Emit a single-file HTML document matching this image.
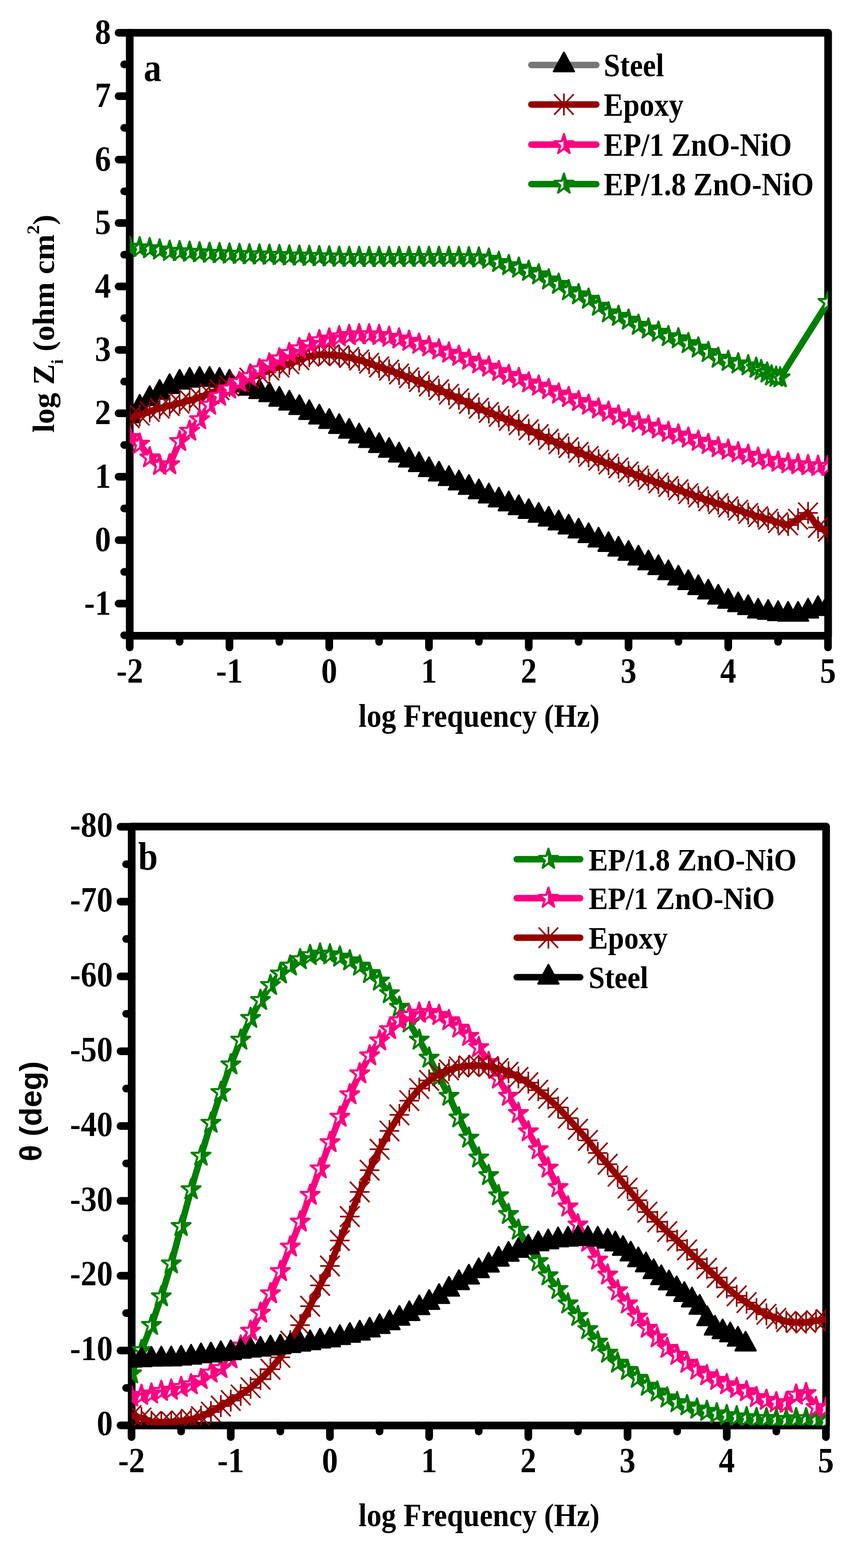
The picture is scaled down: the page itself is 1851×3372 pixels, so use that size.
<!DOCTYPE html><html><head><meta charset="utf-8"><title>EIS Bode plots</title><style>html,body{margin:0;padding:0;background:#fff}svg{display:block}</style></head><body>
<svg width="1851" height="3372" viewBox="0 0 1851 3372">
<rect width="1851" height="3372" fill="#fff"/>
<defs>
<g id="fG"><path d="M0.00,-22.79 L4.78,-7.04 L20.26,-7.04 L7.74,2.69 L12.52,18.44 L0.00,8.71 L-12.52,18.44 L-7.74,2.69 L-20.26,-7.04 L-4.78,-7.04Z" fill="#008000"/><path d="M-1,-8.7 L-4.3,-5.5 L-13.2,-5.5 L-6,2.4 L-9,12.6 L-1,7.3Z" fill="#fff"/></g>
<g id="fP"><path d="M0.00,-22.79 L4.78,-7.04 L20.26,-7.04 L7.74,2.69 L12.52,18.44 L0.00,8.71 L-12.52,18.44 L-7.74,2.69 L-20.26,-7.04 L-4.78,-7.04Z" fill="#ff0080"/><path d="M-1,-8.7 L-4.3,-5.5 L-13.2,-5.5 L-6,2.4 L-9,12.6 L-1,7.3Z" fill="#fff"/></g>
<path id="oG" d="M0.00,-22.79 L4.78,-7.04 L20.26,-7.04 L7.74,2.69 L12.52,18.44 L0.00,8.71 L-12.52,18.44 L-7.74,2.69 L-20.26,-7.04 L-4.78,-7.04Z" fill="none" stroke="#008000" stroke-width="4.5" stroke-linejoin="round"/>
<path id="oP" d="M0.00,-22.79 L4.78,-7.04 L20.26,-7.04 L7.74,2.69 L12.52,18.44 L0.00,8.71 L-12.52,18.44 L-7.74,2.69 L-20.26,-7.04 L-4.78,-7.04Z" fill="none" stroke="#ff0080" stroke-width="4.5" stroke-linejoin="round"/>
<g id="sG"><use href="#fG"/><use href="#oG"/></g>
<g id="sP"><use href="#fP"/><use href="#oP"/></g>
<path id="tK" d="M0,-26.7 L22,13.9 L-22,13.9Z" fill="#000" stroke="#000" stroke-width="4" stroke-linejoin="round"/>
<path id="aW" d="M0,-23.5V23.5M-21,0H21M-21,-22L21,22M-21,22L21,-22" fill="none" stroke="#940000" stroke-width="3.5"/>
<clipPath id="cA"><rect x="278.9" y="70.4" width="1501.4" height="1296.9"/></clipPath>
<clipPath id="cB"><rect x="283.1" y="1777.5" width="1492.9" height="1288.0"/></clipPath>
</defs>
<path d="M278.9,1367.3 V70.4 H1780.3 V1367.3 Z" fill="none" stroke="#000" stroke-width="16.5" stroke-linejoin="round"/>
<g stroke="#000" stroke-width="16.5" stroke-linecap="round"><line x1="278.9" y1="1366.2" x2="266.9" y2="1366.2"/><line x1="278.9" y1="1298.0" x2="254.9" y2="1298.0"/><line x1="278.9" y1="1229.8" x2="266.9" y2="1229.8"/><line x1="278.9" y1="1161.6" x2="254.9" y2="1161.6"/><line x1="278.9" y1="1093.4" x2="266.9" y2="1093.4"/><line x1="278.9" y1="1025.2" x2="254.9" y2="1025.2"/><line x1="278.9" y1="957.0" x2="266.9" y2="957.0"/><line x1="278.9" y1="888.8" x2="254.9" y2="888.8"/><line x1="278.9" y1="820.6" x2="266.9" y2="820.6"/><line x1="278.9" y1="752.4" x2="254.9" y2="752.4"/><line x1="278.9" y1="684.2" x2="266.9" y2="684.2"/><line x1="278.9" y1="616.0" x2="254.9" y2="616.0"/><line x1="278.9" y1="547.8" x2="266.9" y2="547.8"/><line x1="278.9" y1="479.6" x2="254.9" y2="479.6"/><line x1="278.9" y1="411.4" x2="266.9" y2="411.4"/><line x1="278.9" y1="343.2" x2="254.9" y2="343.2"/><line x1="278.9" y1="275.0" x2="266.9" y2="275.0"/><line x1="278.9" y1="206.8" x2="254.9" y2="206.8"/><line x1="278.9" y1="138.6" x2="266.9" y2="138.6"/><line x1="278.9" y1="70.4" x2="254.9" y2="70.4"/><line x1="278.9" y1="1367.3" x2="278.9" y2="1392.3"/><line x1="386.1" y1="1367.3" x2="386.1" y2="1380.3"/><line x1="493.3" y1="1367.3" x2="493.3" y2="1392.3"/><line x1="600.6" y1="1367.3" x2="600.6" y2="1380.3"/><line x1="707.8" y1="1367.3" x2="707.8" y2="1392.3"/><line x1="815.0" y1="1367.3" x2="815.0" y2="1380.3"/><line x1="922.2" y1="1367.3" x2="922.2" y2="1392.3"/><line x1="1029.5" y1="1367.3" x2="1029.5" y2="1380.3"/><line x1="1136.7" y1="1367.3" x2="1136.7" y2="1392.3"/><line x1="1243.9" y1="1367.3" x2="1243.9" y2="1380.3"/><line x1="1351.2" y1="1367.3" x2="1351.2" y2="1392.3"/><line x1="1458.4" y1="1367.3" x2="1458.4" y2="1380.3"/><line x1="1565.6" y1="1367.3" x2="1565.6" y2="1392.3"/><line x1="1672.8" y1="1367.3" x2="1672.8" y2="1380.3"/><line x1="1780.0" y1="1367.3" x2="1780.0" y2="1392.3"/></g>
<text transform="translate(238.5,1321.5) scale(1,1.1)" font-size="69" text-anchor="end" font-family="'Liberation Serif','Times New Roman',serif" font-weight="bold">-1</text>
<text transform="translate(238.5,1185.1) scale(1,1.1)" font-size="69" text-anchor="end" font-family="'Liberation Serif','Times New Roman',serif" font-weight="bold">0</text>
<text transform="translate(238.5,1048.7) scale(1,1.1)" font-size="69" text-anchor="end" font-family="'Liberation Serif','Times New Roman',serif" font-weight="bold">1</text>
<text transform="translate(238.5,912.3) scale(1,1.1)" font-size="69" text-anchor="end" font-family="'Liberation Serif','Times New Roman',serif" font-weight="bold">2</text>
<text transform="translate(238.5,775.9) scale(1,1.1)" font-size="69" text-anchor="end" font-family="'Liberation Serif','Times New Roman',serif" font-weight="bold">3</text>
<text transform="translate(238.5,639.5) scale(1,1.1)" font-size="69" text-anchor="end" font-family="'Liberation Serif','Times New Roman',serif" font-weight="bold">4</text>
<text transform="translate(238.5,503.1) scale(1,1.1)" font-size="69" text-anchor="end" font-family="'Liberation Serif','Times New Roman',serif" font-weight="bold">5</text>
<text transform="translate(238.5,366.7) scale(1,1.1)" font-size="69" text-anchor="end" font-family="'Liberation Serif','Times New Roman',serif" font-weight="bold">6</text>
<text transform="translate(238.5,230.3) scale(1,1.1)" font-size="69" text-anchor="end" font-family="'Liberation Serif','Times New Roman',serif" font-weight="bold">7</text>
<text transform="translate(238.5,93.9) scale(1,1.1)" font-size="69" text-anchor="end" font-family="'Liberation Serif','Times New Roman',serif" font-weight="bold">8</text>
<text transform="translate(278.9,1467.5) scale(1,1.1)" font-size="69" text-anchor="middle" font-family="'Liberation Serif','Times New Roman',serif" font-weight="bold">-2</text>
<text transform="translate(493.3,1467.5) scale(1,1.1)" font-size="69" text-anchor="middle" font-family="'Liberation Serif','Times New Roman',serif" font-weight="bold">-1</text>
<text transform="translate(707.8,1467.5) scale(1,1.1)" font-size="69" text-anchor="middle" font-family="'Liberation Serif','Times New Roman',serif" font-weight="bold">0</text>
<text transform="translate(922.2,1467.5) scale(1,1.1)" font-size="69" text-anchor="middle" font-family="'Liberation Serif','Times New Roman',serif" font-weight="bold">1</text>
<text transform="translate(1136.7,1467.5) scale(1,1.1)" font-size="69" text-anchor="middle" font-family="'Liberation Serif','Times New Roman',serif" font-weight="bold">2</text>
<text transform="translate(1351.2,1467.5) scale(1,1.1)" font-size="69" text-anchor="middle" font-family="'Liberation Serif','Times New Roman',serif" font-weight="bold">3</text>
<text transform="translate(1565.6,1467.5) scale(1,1.1)" font-size="69" text-anchor="middle" font-family="'Liberation Serif','Times New Roman',serif" font-weight="bold">4</text>
<text transform="translate(1780.0,1467.5) scale(1,1.1)" font-size="69" text-anchor="middle" font-family="'Liberation Serif','Times New Roman',serif" font-weight="bold">5</text>
<g clip-path="url(#cA)">
<polyline points="278.9,894.3 300.3,875.8 321.8,857.4 343.2,843.8 364.7,831.5 386.1,822.0 407.6,817.9 429.0,815.8 450.5,815.8 471.9,817.9 493.3,822.0 514.8,827.9 536.2,835.2 557.7,842.4 579.1,849.2 600.6,858.8 622.0,867.0 643.5,876.5 664.9,887.4 686.4,897.0 707.8,906.5 729.2,917.4 750.7,927.7 772.1,937.9 793.6,947.5 815.0,958.4 836.5,968.6 857.9,978.8 879.4,989.7 900.8,999.3 922.2,1010.2 943.7,1019.7 965.1,1029.3 986.6,1038.8 1008.0,1048.4 1029.5,1057.9 1050.9,1066.8 1072.4,1075.4 1093.8,1083.8 1115.3,1092.0 1136.7,1100.2 1158.1,1108.3 1179.6,1116.6 1201.0,1124.8 1222.5,1133.6 1243.9,1142.2 1265.4,1152.1 1286.8,1161.6 1308.3,1171.1 1329.7,1181.1 1351.2,1190.2 1372.6,1200.3 1394.0,1210.7 1415.5,1220.9 1436.9,1231.8 1458.4,1243.4 1479.8,1253.0 1501.3,1263.9 1522.7,1273.4 1544.2,1284.4 1565.6,1293.4 1587.0,1300.7 1608.5,1306.9 1629.9,1314.4 1651.4,1317.1 1672.8,1319.8 1694.3,1321.2 1715.7,1321.2 1737.2,1314.4 1758.6,1308.9 1780.0,1303.5" fill="none" stroke="#777777" stroke-width="14" stroke-linejoin="round" stroke-linecap="round"/>
<g><use href="#tK" x="278.9" y="894.3"/><use href="#tK" x="300.3" y="875.8"/><use href="#tK" x="321.8" y="857.4"/><use href="#tK" x="343.2" y="843.8"/><use href="#tK" x="364.7" y="831.5"/><use href="#tK" x="386.1" y="822.0"/><use href="#tK" x="407.6" y="817.9"/><use href="#tK" x="429.0" y="815.8"/><use href="#tK" x="450.5" y="815.8"/><use href="#tK" x="471.9" y="817.9"/><use href="#tK" x="493.3" y="822.0"/><use href="#tK" x="514.8" y="827.9"/><use href="#tK" x="536.2" y="835.2"/><use href="#tK" x="557.7" y="842.4"/><use href="#tK" x="579.1" y="849.2"/><use href="#tK" x="600.6" y="858.8"/><use href="#tK" x="622.0" y="867.0"/><use href="#tK" x="643.5" y="876.5"/><use href="#tK" x="664.9" y="887.4"/><use href="#tK" x="686.4" y="897.0"/><use href="#tK" x="707.8" y="906.5"/><use href="#tK" x="729.2" y="917.4"/><use href="#tK" x="750.7" y="927.7"/><use href="#tK" x="772.1" y="937.9"/><use href="#tK" x="793.6" y="947.5"/><use href="#tK" x="815.0" y="958.4"/><use href="#tK" x="836.5" y="968.6"/><use href="#tK" x="857.9" y="978.8"/><use href="#tK" x="879.4" y="989.7"/><use href="#tK" x="900.8" y="999.3"/><use href="#tK" x="922.2" y="1010.2"/><use href="#tK" x="943.7" y="1019.7"/><use href="#tK" x="965.1" y="1029.3"/><use href="#tK" x="986.6" y="1038.8"/><use href="#tK" x="1008.0" y="1048.4"/><use href="#tK" x="1029.5" y="1057.9"/><use href="#tK" x="1050.9" y="1066.8"/><use href="#tK" x="1072.4" y="1075.4"/><use href="#tK" x="1093.8" y="1083.8"/><use href="#tK" x="1115.3" y="1092.0"/><use href="#tK" x="1136.7" y="1100.2"/><use href="#tK" x="1158.1" y="1108.3"/><use href="#tK" x="1179.6" y="1116.6"/><use href="#tK" x="1201.0" y="1124.8"/><use href="#tK" x="1222.5" y="1133.6"/><use href="#tK" x="1243.9" y="1142.2"/><use href="#tK" x="1265.4" y="1152.1"/><use href="#tK" x="1286.8" y="1161.6"/><use href="#tK" x="1308.3" y="1171.1"/><use href="#tK" x="1329.7" y="1181.1"/><use href="#tK" x="1351.2" y="1190.2"/><use href="#tK" x="1372.6" y="1200.3"/><use href="#tK" x="1394.0" y="1210.7"/><use href="#tK" x="1415.5" y="1220.9"/><use href="#tK" x="1436.9" y="1231.8"/><use href="#tK" x="1458.4" y="1243.4"/><use href="#tK" x="1479.8" y="1253.0"/><use href="#tK" x="1501.3" y="1263.9"/><use href="#tK" x="1522.7" y="1273.4"/><use href="#tK" x="1544.2" y="1284.4"/><use href="#tK" x="1565.6" y="1293.4"/><use href="#tK" x="1587.0" y="1300.7"/><use href="#tK" x="1608.5" y="1306.9"/><use href="#tK" x="1629.9" y="1314.4"/><use href="#tK" x="1651.4" y="1317.1"/><use href="#tK" x="1672.8" y="1319.8"/><use href="#tK" x="1694.3" y="1321.2"/><use href="#tK" x="1715.7" y="1321.2"/><use href="#tK" x="1737.2" y="1314.4"/><use href="#tK" x="1758.6" y="1308.9"/><use href="#tK" x="1780.0" y="1303.5"/></g>
<polyline points="278.9,898.3 300.3,892.9 321.8,884.7 343.2,877.9 364.7,872.3 386.1,867.0 407.6,861.1 429.0,854.7 450.5,846.8 471.9,838.3 493.3,830.1 514.8,821.7 536.2,813.1 557.7,804.3 579.1,796.0 600.6,789.2 622.0,782.4 643.5,773.5 664.9,766.0 686.4,762.6 707.8,763.3 729.2,764.7 750.7,768.8 772.1,774.2 793.6,781.0 815.0,789.2 836.5,796.0 857.9,804.2 879.4,812.4 900.8,820.6 922.2,830.1 943.7,838.3 965.1,847.9 986.6,857.4 1008.0,867.7 1029.5,877.9 1050.9,887.0 1072.4,895.4 1093.8,904.0 1115.3,913.4 1136.7,924.3 1158.1,934.5 1179.6,944.7 1201.0,954.3 1222.5,962.5 1243.9,972.7 1265.4,981.6 1286.8,989.7 1308.3,997.9 1329.7,1006.1 1351.2,1015.0 1372.6,1023.8 1394.0,1031.3 1415.5,1038.8 1436.9,1046.2 1458.4,1053.3 1479.8,1061.6 1501.3,1068.8 1522.7,1077.0 1544.2,1083.0 1565.6,1090.0 1587.0,1097.1 1608.5,1104.3 1629.9,1111.1 1651.4,1116.6 1672.8,1124.0 1694.3,1128.9 1715.7,1116.6 1737.2,1102.9 1758.6,1134.3 1780.0,1142.5" fill="none" stroke="#940000" stroke-width="14" stroke-linejoin="round" stroke-linecap="round"/>
<g><use href="#aW" x="278.9" y="898.3"/><use href="#aW" x="300.3" y="892.9"/><use href="#aW" x="321.8" y="884.7"/><use href="#aW" x="343.2" y="877.9"/><use href="#aW" x="364.7" y="872.3"/><use href="#aW" x="386.1" y="867.0"/><use href="#aW" x="407.6" y="861.1"/><use href="#aW" x="429.0" y="854.7"/><use href="#aW" x="450.5" y="846.8"/><use href="#aW" x="471.9" y="838.3"/><use href="#aW" x="493.3" y="830.1"/><use href="#aW" x="514.8" y="821.7"/><use href="#aW" x="536.2" y="813.1"/><use href="#aW" x="557.7" y="804.3"/><use href="#aW" x="579.1" y="796.0"/><use href="#aW" x="600.6" y="789.2"/><use href="#aW" x="622.0" y="782.4"/><use href="#aW" x="643.5" y="773.5"/><use href="#aW" x="664.9" y="766.0"/><use href="#aW" x="686.4" y="762.6"/><use href="#aW" x="707.8" y="763.3"/><use href="#aW" x="729.2" y="764.7"/><use href="#aW" x="750.7" y="768.8"/><use href="#aW" x="772.1" y="774.2"/><use href="#aW" x="793.6" y="781.0"/><use href="#aW" x="815.0" y="789.2"/><use href="#aW" x="836.5" y="796.0"/><use href="#aW" x="857.9" y="804.2"/><use href="#aW" x="879.4" y="812.4"/><use href="#aW" x="900.8" y="820.6"/><use href="#aW" x="922.2" y="830.1"/><use href="#aW" x="943.7" y="838.3"/><use href="#aW" x="965.1" y="847.9"/><use href="#aW" x="986.6" y="857.4"/><use href="#aW" x="1008.0" y="867.7"/><use href="#aW" x="1029.5" y="877.9"/><use href="#aW" x="1050.9" y="887.0"/><use href="#aW" x="1072.4" y="895.4"/><use href="#aW" x="1093.8" y="904.0"/><use href="#aW" x="1115.3" y="913.4"/><use href="#aW" x="1136.7" y="924.3"/><use href="#aW" x="1158.1" y="934.5"/><use href="#aW" x="1179.6" y="944.7"/><use href="#aW" x="1201.0" y="954.3"/><use href="#aW" x="1222.5" y="962.5"/><use href="#aW" x="1243.9" y="972.7"/><use href="#aW" x="1265.4" y="981.6"/><use href="#aW" x="1286.8" y="989.7"/><use href="#aW" x="1308.3" y="997.9"/><use href="#aW" x="1329.7" y="1006.1"/><use href="#aW" x="1351.2" y="1015.0"/><use href="#aW" x="1372.6" y="1023.8"/><use href="#aW" x="1394.0" y="1031.3"/><use href="#aW" x="1415.5" y="1038.8"/><use href="#aW" x="1436.9" y="1046.2"/><use href="#aW" x="1458.4" y="1053.3"/><use href="#aW" x="1479.8" y="1061.6"/><use href="#aW" x="1501.3" y="1068.8"/><use href="#aW" x="1522.7" y="1077.0"/><use href="#aW" x="1544.2" y="1083.0"/><use href="#aW" x="1565.6" y="1090.0"/><use href="#aW" x="1587.0" y="1097.1"/><use href="#aW" x="1608.5" y="1104.3"/><use href="#aW" x="1629.9" y="1111.1"/><use href="#aW" x="1651.4" y="1116.6"/><use href="#aW" x="1672.8" y="1124.0"/><use href="#aW" x="1694.3" y="1128.9"/><use href="#aW" x="1715.7" y="1116.6"/><use href="#aW" x="1737.2" y="1102.9"/><use href="#aW" x="1758.6" y="1134.3"/><use href="#aW" x="1780.0" y="1142.5"/></g>
<polyline points="278.9,940.6 300.3,955.0 321.8,984.3 343.2,1000.6 364.7,999.3 386.1,949.4 407.6,927.0 429.0,902.4 450.5,871.1 471.9,852.0 493.3,836.3 514.8,822.0 536.2,809.7 557.7,794.7 579.1,782.4 600.6,771.5 622.0,759.9 643.5,749.7 664.9,740.1 686.4,732.5 707.8,728.8 729.2,724.0 750.7,721.2 772.1,719.8 793.6,719.8 815.0,721.2 836.5,725.1 857.9,728.8 879.4,733.8 900.8,740.1 922.2,745.6 943.7,752.4 965.1,759.2 986.6,766.0 1008.0,774.2 1029.5,782.4 1050.9,789.2 1072.4,798.8 1093.8,807.0 1115.3,813.8 1136.7,823.3 1158.1,830.1 1179.6,837.6 1201.0,847.2 1222.5,854.7 1243.9,863.3 1265.4,871.1 1286.8,879.3 1308.3,886.1 1329.7,894.3 1351.2,902.4 1372.6,909.3 1394.0,916.1 1415.5,922.2 1436.9,929.7 1458.4,935.2 1479.8,942.0 1501.3,948.8 1522.7,955.6 1544.2,962.5 1565.6,967.9 1587.0,973.4 1608.5,978.8 1629.9,985.0 1651.4,989.7 1672.8,993.8 1694.3,997.1 1715.7,999.3 1737.2,1001.3 1758.6,1002.7 1780.0,1002.8" fill="none" stroke="#ff0080" stroke-width="14" stroke-linejoin="round" stroke-linecap="round"/>
<g><use href="#fP" x="278.9" y="940.6"/><use href="#fP" x="300.3" y="955.0"/><use href="#fP" x="321.8" y="984.3"/><use href="#fP" x="343.2" y="1000.6"/><use href="#fP" x="364.7" y="999.3"/><use href="#fP" x="386.1" y="949.4"/><use href="#fP" x="407.6" y="927.0"/><use href="#fP" x="429.0" y="902.4"/><use href="#fP" x="450.5" y="871.1"/><use href="#fP" x="471.9" y="852.0"/><use href="#fP" x="493.3" y="836.3"/><use href="#fP" x="514.8" y="822.0"/><use href="#fP" x="536.2" y="809.7"/><use href="#fP" x="557.7" y="794.7"/><use href="#fP" x="579.1" y="782.4"/><use href="#fP" x="600.6" y="771.5"/><use href="#fP" x="622.0" y="759.9"/><use href="#fP" x="643.5" y="749.7"/><use href="#fP" x="664.9" y="740.1"/><use href="#fP" x="686.4" y="732.5"/><use href="#fP" x="707.8" y="728.8"/><use href="#fP" x="729.2" y="724.0"/><use href="#fP" x="750.7" y="721.2"/><use href="#fP" x="772.1" y="719.8"/><use href="#fP" x="793.6" y="719.8"/><use href="#fP" x="815.0" y="721.2"/><use href="#fP" x="836.5" y="725.1"/><use href="#fP" x="857.9" y="728.8"/><use href="#fP" x="879.4" y="733.8"/><use href="#fP" x="900.8" y="740.1"/><use href="#fP" x="922.2" y="745.6"/><use href="#fP" x="943.7" y="752.4"/><use href="#fP" x="965.1" y="759.2"/><use href="#fP" x="986.6" y="766.0"/><use href="#fP" x="1008.0" y="774.2"/><use href="#fP" x="1029.5" y="782.4"/><use href="#fP" x="1050.9" y="789.2"/><use href="#fP" x="1072.4" y="798.8"/><use href="#fP" x="1093.8" y="807.0"/><use href="#fP" x="1115.3" y="813.8"/><use href="#fP" x="1136.7" y="823.3"/><use href="#fP" x="1158.1" y="830.1"/><use href="#fP" x="1179.6" y="837.6"/><use href="#fP" x="1201.0" y="847.2"/><use href="#fP" x="1222.5" y="854.7"/><use href="#fP" x="1243.9" y="863.3"/><use href="#fP" x="1265.4" y="871.1"/><use href="#fP" x="1286.8" y="879.3"/><use href="#fP" x="1308.3" y="886.1"/><use href="#fP" x="1329.7" y="894.3"/><use href="#fP" x="1351.2" y="902.4"/><use href="#fP" x="1372.6" y="909.3"/><use href="#fP" x="1394.0" y="916.1"/><use href="#fP" x="1415.5" y="922.2"/><use href="#fP" x="1436.9" y="929.7"/><use href="#fP" x="1458.4" y="935.2"/><use href="#fP" x="1479.8" y="942.0"/><use href="#fP" x="1501.3" y="948.8"/><use href="#fP" x="1522.7" y="955.6"/><use href="#fP" x="1544.2" y="962.5"/><use href="#fP" x="1565.6" y="967.9"/><use href="#fP" x="1587.0" y="973.4"/><use href="#fP" x="1608.5" y="978.8"/><use href="#fP" x="1629.9" y="985.0"/><use href="#fP" x="1651.4" y="989.7"/><use href="#fP" x="1672.8" y="993.8"/><use href="#fP" x="1694.3" y="997.1"/><use href="#fP" x="1715.7" y="999.3"/><use href="#fP" x="1737.2" y="1001.3"/><use href="#fP" x="1758.6" y="1002.7"/><use href="#fP" x="1780.0" y="1002.8"/></g>
<g><use href="#oP" x="278.9" y="940.6"/><use href="#oP" x="300.3" y="955.0"/><use href="#oP" x="321.8" y="984.3"/><use href="#oP" x="343.2" y="1000.6"/><use href="#oP" x="364.7" y="999.3"/><use href="#oP" x="386.1" y="949.4"/><use href="#oP" x="407.6" y="927.0"/><use href="#oP" x="429.0" y="902.4"/><use href="#oP" x="450.5" y="871.1"/><use href="#oP" x="471.9" y="852.0"/><use href="#oP" x="493.3" y="836.3"/><use href="#oP" x="514.8" y="822.0"/><use href="#oP" x="536.2" y="809.7"/><use href="#oP" x="557.7" y="794.7"/><use href="#oP" x="579.1" y="782.4"/><use href="#oP" x="600.6" y="771.5"/><use href="#oP" x="622.0" y="759.9"/><use href="#oP" x="643.5" y="749.7"/><use href="#oP" x="664.9" y="740.1"/><use href="#oP" x="686.4" y="732.5"/><use href="#oP" x="707.8" y="728.8"/><use href="#oP" x="729.2" y="724.0"/><use href="#oP" x="750.7" y="721.2"/><use href="#oP" x="772.1" y="719.8"/><use href="#oP" x="793.6" y="719.8"/><use href="#oP" x="815.0" y="721.2"/><use href="#oP" x="836.5" y="725.1"/><use href="#oP" x="857.9" y="728.8"/><use href="#oP" x="879.4" y="733.8"/><use href="#oP" x="900.8" y="740.1"/><use href="#oP" x="922.2" y="745.6"/><use href="#oP" x="943.7" y="752.4"/><use href="#oP" x="965.1" y="759.2"/><use href="#oP" x="986.6" y="766.0"/><use href="#oP" x="1008.0" y="774.2"/><use href="#oP" x="1029.5" y="782.4"/><use href="#oP" x="1050.9" y="789.2"/><use href="#oP" x="1072.4" y="798.8"/><use href="#oP" x="1093.8" y="807.0"/><use href="#oP" x="1115.3" y="813.8"/><use href="#oP" x="1136.7" y="823.3"/><use href="#oP" x="1158.1" y="830.1"/><use href="#oP" x="1179.6" y="837.6"/><use href="#oP" x="1201.0" y="847.2"/><use href="#oP" x="1222.5" y="854.7"/><use href="#oP" x="1243.9" y="863.3"/><use href="#oP" x="1265.4" y="871.1"/><use href="#oP" x="1286.8" y="879.3"/><use href="#oP" x="1308.3" y="886.1"/><use href="#oP" x="1329.7" y="894.3"/><use href="#oP" x="1351.2" y="902.4"/><use href="#oP" x="1372.6" y="909.3"/><use href="#oP" x="1394.0" y="916.1"/><use href="#oP" x="1415.5" y="922.2"/><use href="#oP" x="1436.9" y="929.7"/><use href="#oP" x="1458.4" y="935.2"/><use href="#oP" x="1479.8" y="942.0"/><use href="#oP" x="1501.3" y="948.8"/><use href="#oP" x="1522.7" y="955.6"/><use href="#oP" x="1544.2" y="962.5"/><use href="#oP" x="1565.6" y="967.9"/><use href="#oP" x="1587.0" y="973.4"/><use href="#oP" x="1608.5" y="978.8"/><use href="#oP" x="1629.9" y="985.0"/><use href="#oP" x="1651.4" y="989.7"/><use href="#oP" x="1672.8" y="993.8"/><use href="#oP" x="1694.3" y="997.1"/><use href="#oP" x="1715.7" y="999.3"/><use href="#oP" x="1737.2" y="1001.3"/><use href="#oP" x="1758.6" y="1002.7"/><use href="#oP" x="1780.0" y="1002.8"/></g>
<polyline points="278.9,531.2 300.3,532.8 321.8,534.6 343.2,537.4 364.7,540.3 386.1,541.0 407.6,542.3 429.0,543.4 450.5,544.5 471.9,545.2 493.3,546.3 514.8,547.0 536.2,547.7 557.7,548.1 579.1,548.8 600.6,549.4 622.0,550.3 643.5,550.5 664.9,551.2 686.4,551.9 707.8,552.3 729.2,553.0 750.7,553.4 772.1,553.5 793.6,553.6 815.0,553.7 836.5,553.6 857.9,553.5 879.4,553.4 900.8,553.3 922.2,553.3 943.7,553.3 965.1,553.4 986.6,553.7 1008.0,553.9 1029.5,554.6 1050.9,557.3 1072.4,564.2 1093.8,571.0 1115.3,576.4 1136.7,583.3 1158.1,590.8 1179.6,601.7 1201.0,611.2 1222.5,624.9 1243.9,633.7 1265.4,643.3 1286.8,658.3 1308.3,672.6 1329.7,680.1 1351.2,688.3 1372.6,699.2 1394.0,707.4 1415.5,714.2 1436.9,723.8 1458.4,728.4 1479.8,738.8 1501.3,748.3 1522.7,757.9 1544.2,770.1 1565.6,777.0 1587.0,782.4 1608.5,786.5 1625.6,791.8 1636.4,796.9 1649.2,802.0 1658.9,808.3 1668.5,811.1 1677.1,812.4 1780.0,650.1" fill="none" stroke="#008000" stroke-width="14" stroke-linejoin="round" stroke-linecap="round"/>
<g><use href="#fG" x="278.9" y="531.2"/><use href="#fG" x="300.3" y="532.8"/><use href="#fG" x="321.8" y="534.6"/><use href="#fG" x="343.2" y="537.4"/><use href="#fG" x="364.7" y="540.3"/><use href="#fG" x="386.1" y="541.0"/><use href="#fG" x="407.6" y="542.3"/><use href="#fG" x="429.0" y="543.4"/><use href="#fG" x="450.5" y="544.5"/><use href="#fG" x="471.9" y="545.2"/><use href="#fG" x="493.3" y="546.3"/><use href="#fG" x="514.8" y="547.0"/><use href="#fG" x="536.2" y="547.7"/><use href="#fG" x="557.7" y="548.1"/><use href="#fG" x="579.1" y="548.8"/><use href="#fG" x="600.6" y="549.4"/><use href="#fG" x="622.0" y="550.3"/><use href="#fG" x="643.5" y="550.5"/><use href="#fG" x="664.9" y="551.2"/><use href="#fG" x="686.4" y="551.9"/><use href="#fG" x="707.8" y="552.3"/><use href="#fG" x="729.2" y="553.0"/><use href="#fG" x="750.7" y="553.4"/><use href="#fG" x="772.1" y="553.5"/><use href="#fG" x="793.6" y="553.6"/><use href="#fG" x="815.0" y="553.7"/><use href="#fG" x="836.5" y="553.6"/><use href="#fG" x="857.9" y="553.5"/><use href="#fG" x="879.4" y="553.4"/><use href="#fG" x="900.8" y="553.3"/><use href="#fG" x="922.2" y="553.3"/><use href="#fG" x="943.7" y="553.3"/><use href="#fG" x="965.1" y="553.4"/><use href="#fG" x="986.6" y="553.7"/><use href="#fG" x="1008.0" y="553.9"/><use href="#fG" x="1029.5" y="554.6"/><use href="#fG" x="1050.9" y="557.3"/><use href="#fG" x="1072.4" y="564.2"/><use href="#fG" x="1093.8" y="571.0"/><use href="#fG" x="1115.3" y="576.4"/><use href="#fG" x="1136.7" y="583.3"/><use href="#fG" x="1158.1" y="590.8"/><use href="#fG" x="1179.6" y="601.7"/><use href="#fG" x="1201.0" y="611.2"/><use href="#fG" x="1222.5" y="624.9"/><use href="#fG" x="1243.9" y="633.7"/><use href="#fG" x="1265.4" y="643.3"/><use href="#fG" x="1286.8" y="658.3"/><use href="#fG" x="1308.3" y="672.6"/><use href="#fG" x="1329.7" y="680.1"/><use href="#fG" x="1351.2" y="688.3"/><use href="#fG" x="1372.6" y="699.2"/><use href="#fG" x="1394.0" y="707.4"/><use href="#fG" x="1415.5" y="714.2"/><use href="#fG" x="1436.9" y="723.8"/><use href="#fG" x="1458.4" y="728.4"/><use href="#fG" x="1479.8" y="738.8"/><use href="#fG" x="1501.3" y="748.3"/><use href="#fG" x="1522.7" y="757.9"/><use href="#fG" x="1544.2" y="770.1"/><use href="#fG" x="1565.6" y="777.0"/><use href="#fG" x="1587.0" y="782.4"/><use href="#fG" x="1608.5" y="786.5"/><use href="#fG" x="1625.6" y="791.8"/><use href="#fG" x="1636.4" y="796.9"/><use href="#fG" x="1649.2" y="802.0"/><use href="#fG" x="1658.9" y="808.3"/><use href="#fG" x="1668.5" y="811.1"/><use href="#fG" x="1677.1" y="812.4"/><use href="#fG" x="1780.0" y="650.1"/></g>
<g><use href="#oG" x="278.9" y="531.2"/><use href="#oG" x="300.3" y="532.8"/><use href="#oG" x="321.8" y="534.6"/><use href="#oG" x="343.2" y="537.4"/><use href="#oG" x="364.7" y="540.3"/><use href="#oG" x="386.1" y="541.0"/><use href="#oG" x="407.6" y="542.3"/><use href="#oG" x="429.0" y="543.4"/><use href="#oG" x="450.5" y="544.5"/><use href="#oG" x="471.9" y="545.2"/><use href="#oG" x="493.3" y="546.3"/><use href="#oG" x="514.8" y="547.0"/><use href="#oG" x="536.2" y="547.7"/><use href="#oG" x="557.7" y="548.1"/><use href="#oG" x="579.1" y="548.8"/><use href="#oG" x="600.6" y="549.4"/><use href="#oG" x="622.0" y="550.3"/><use href="#oG" x="643.5" y="550.5"/><use href="#oG" x="664.9" y="551.2"/><use href="#oG" x="686.4" y="551.9"/><use href="#oG" x="707.8" y="552.3"/><use href="#oG" x="729.2" y="553.0"/><use href="#oG" x="750.7" y="553.4"/><use href="#oG" x="772.1" y="553.5"/><use href="#oG" x="793.6" y="553.6"/><use href="#oG" x="815.0" y="553.7"/><use href="#oG" x="836.5" y="553.6"/><use href="#oG" x="857.9" y="553.5"/><use href="#oG" x="879.4" y="553.4"/><use href="#oG" x="900.8" y="553.3"/><use href="#oG" x="922.2" y="553.3"/><use href="#oG" x="943.7" y="553.3"/><use href="#oG" x="965.1" y="553.4"/><use href="#oG" x="986.6" y="553.7"/><use href="#oG" x="1008.0" y="553.9"/><use href="#oG" x="1029.5" y="554.6"/><use href="#oG" x="1050.9" y="557.3"/><use href="#oG" x="1072.4" y="564.2"/><use href="#oG" x="1093.8" y="571.0"/><use href="#oG" x="1115.3" y="576.4"/><use href="#oG" x="1136.7" y="583.3"/><use href="#oG" x="1158.1" y="590.8"/><use href="#oG" x="1179.6" y="601.7"/><use href="#oG" x="1201.0" y="611.2"/><use href="#oG" x="1222.5" y="624.9"/><use href="#oG" x="1243.9" y="633.7"/><use href="#oG" x="1265.4" y="643.3"/><use href="#oG" x="1286.8" y="658.3"/><use href="#oG" x="1308.3" y="672.6"/><use href="#oG" x="1329.7" y="680.1"/><use href="#oG" x="1351.2" y="688.3"/><use href="#oG" x="1372.6" y="699.2"/><use href="#oG" x="1394.0" y="707.4"/><use href="#oG" x="1415.5" y="714.2"/><use href="#oG" x="1436.9" y="723.8"/><use href="#oG" x="1458.4" y="728.4"/><use href="#oG" x="1479.8" y="738.8"/><use href="#oG" x="1501.3" y="748.3"/><use href="#oG" x="1522.7" y="757.9"/><use href="#oG" x="1544.2" y="770.1"/><use href="#oG" x="1565.6" y="777.0"/><use href="#oG" x="1587.0" y="782.4"/><use href="#oG" x="1608.5" y="786.5"/><use href="#oG" x="1625.6" y="791.8"/><use href="#oG" x="1636.4" y="796.9"/><use href="#oG" x="1649.2" y="802.0"/><use href="#oG" x="1658.9" y="808.3"/><use href="#oG" x="1668.5" y="811.1"/><use href="#oG" x="1677.1" y="812.4"/><use href="#oG" x="1780.0" y="650.1"/></g>
</g>
<line x1="1142.3" y1="139.7" x2="1282" y2="139.7" stroke="#777777" stroke-width="14" stroke-linecap="round"/><use href="#tK" x="1212.3" y="139.7"/>
<text transform="translate(1298.0,163.5) scale(1,1.1)" font-size="63" text-anchor="start" font-family="'Liberation Serif','Times New Roman',serif" font-weight="bold">Steel</text>
<line x1="1142.3" y1="224.8" x2="1282" y2="224.8" stroke="#940000" stroke-width="14" stroke-linecap="round"/><use href="#aW" x="1212.3" y="224.8"/>
<text transform="translate(1298.0,248.6) scale(1,1.1)" font-size="63" text-anchor="start" font-family="'Liberation Serif','Times New Roman',serif" font-weight="bold">Epoxy</text>
<line x1="1142.3" y1="310.9" x2="1282" y2="310.9" stroke="#ff0080" stroke-width="14" stroke-linecap="round"/><use href="#sP" x="1212.3" y="310.9"/>
<text transform="translate(1298.0,334.7) scale(1,1.1)" font-size="63" text-anchor="start" font-family="'Liberation Serif','Times New Roman',serif" font-weight="bold">EP/1 ZnO-NiO</text>
<line x1="1142.3" y1="395.9" x2="1282" y2="395.9" stroke="#008000" stroke-width="14" stroke-linecap="round"/><use href="#sG" x="1212.3" y="395.9"/>
<text transform="translate(1298.0,419.7) scale(1,1.1)" font-size="63" text-anchor="start" font-family="'Liberation Serif','Times New Roman',serif" font-weight="bold">EP/1.8 ZnO-NiO</text>
<text transform="translate(309.0,173.5) scale(1,1.1)" font-size="76" text-anchor="start" font-family="'Liberation Serif','Times New Roman',serif" font-weight="bold">a</text>
<text transform="translate(1030.0,1563.0) scale(1,1.1)" font-size="63.2" text-anchor="middle" font-family="'Liberation Serif','Times New Roman',serif" font-weight="bold">log Frequency (Hz)</text>
<text transform="translate(115.5,930.5) rotate(-90) scale(1,0.965)" font-size="67.2" text-anchor="start" font-family="'Liberation Serif','Times New Roman',serif" font-weight="bold">log Z<tspan font-size="37" dy="20">i</tspan><tspan dy="-20"> (ohm cm</tspan><tspan font-size="40" dy="-33">2</tspan><tspan dy="33">)</tspan></text>
<path d="M283.1,3065.5 V1777.5 H1776.0 V3065.5 Z" fill="none" stroke="#000" stroke-width="16.5" stroke-linejoin="round"/>
<g stroke="#000" stroke-width="16.5" stroke-linecap="round"><line x1="283.1" y1="3065.2" x2="259.1" y2="3065.2"/><line x1="283.1" y1="2984.8" x2="271.1" y2="2984.8"/><line x1="283.1" y1="2904.3" x2="259.1" y2="2904.3"/><line x1="283.1" y1="2823.8" x2="271.1" y2="2823.8"/><line x1="283.1" y1="2743.4" x2="259.1" y2="2743.4"/><line x1="283.1" y1="2662.9" x2="271.1" y2="2662.9"/><line x1="283.1" y1="2582.5" x2="259.1" y2="2582.5"/><line x1="283.1" y1="2502.0" x2="271.1" y2="2502.0"/><line x1="283.1" y1="2421.6" x2="259.1" y2="2421.6"/><line x1="283.1" y1="2341.1" x2="271.1" y2="2341.1"/><line x1="283.1" y1="2260.7" x2="259.1" y2="2260.7"/><line x1="283.1" y1="2180.2" x2="271.1" y2="2180.2"/><line x1="283.1" y1="2099.8" x2="259.1" y2="2099.8"/><line x1="283.1" y1="2019.3" x2="271.1" y2="2019.3"/><line x1="283.1" y1="1938.9" x2="259.1" y2="1938.9"/><line x1="283.1" y1="1858.4" x2="271.1" y2="1858.4"/><line x1="283.1" y1="1778.0" x2="259.1" y2="1778.0"/><line x1="282.8" y1="3065.5" x2="282.8" y2="3090.5"/><line x1="389.4" y1="3065.5" x2="389.4" y2="3078.5"/><line x1="496.1" y1="3065.5" x2="496.1" y2="3090.5"/><line x1="602.7" y1="3065.5" x2="602.7" y2="3078.5"/><line x1="709.3" y1="3065.5" x2="709.3" y2="3090.5"/><line x1="816.0" y1="3065.5" x2="816.0" y2="3078.5"/><line x1="922.6" y1="3065.5" x2="922.6" y2="3090.5"/><line x1="1029.2" y1="3065.5" x2="1029.2" y2="3078.5"/><line x1="1135.8" y1="3065.5" x2="1135.8" y2="3090.5"/><line x1="1242.5" y1="3065.5" x2="1242.5" y2="3078.5"/><line x1="1349.1" y1="3065.5" x2="1349.1" y2="3090.5"/><line x1="1455.7" y1="3065.5" x2="1455.7" y2="3078.5"/><line x1="1562.4" y1="3065.5" x2="1562.4" y2="3090.5"/><line x1="1669.0" y1="3065.5" x2="1669.0" y2="3078.5"/><line x1="1775.6" y1="3065.5" x2="1775.6" y2="3090.5"/></g>
<text transform="translate(242.5,3086.2) scale(1,1.1)" font-size="69" text-anchor="end" font-family="'Liberation Serif','Times New Roman',serif" font-weight="bold">0</text>
<text transform="translate(242.5,2925.3) scale(1,1.1)" font-size="69" text-anchor="end" font-family="'Liberation Serif','Times New Roman',serif" font-weight="bold">-10</text>
<text transform="translate(242.5,2764.4) scale(1,1.1)" font-size="69" text-anchor="end" font-family="'Liberation Serif','Times New Roman',serif" font-weight="bold">-20</text>
<text transform="translate(242.5,2603.5) scale(1,1.1)" font-size="69" text-anchor="end" font-family="'Liberation Serif','Times New Roman',serif" font-weight="bold">-30</text>
<text transform="translate(242.5,2442.6) scale(1,1.1)" font-size="69" text-anchor="end" font-family="'Liberation Serif','Times New Roman',serif" font-weight="bold">-40</text>
<text transform="translate(242.5,2281.7) scale(1,1.1)" font-size="69" text-anchor="end" font-family="'Liberation Serif','Times New Roman',serif" font-weight="bold">-50</text>
<text transform="translate(242.5,2120.8) scale(1,1.1)" font-size="69" text-anchor="end" font-family="'Liberation Serif','Times New Roman',serif" font-weight="bold">-60</text>
<text transform="translate(242.5,1959.9) scale(1,1.1)" font-size="69" text-anchor="end" font-family="'Liberation Serif','Times New Roman',serif" font-weight="bold">-70</text>
<text transform="translate(242.5,1799.0) scale(1,1.1)" font-size="69" text-anchor="end" font-family="'Liberation Serif','Times New Roman',serif" font-weight="bold">-80</text>
<text transform="translate(282.8,3165.5) scale(1,1.1)" font-size="69" text-anchor="middle" font-family="'Liberation Serif','Times New Roman',serif" font-weight="bold">-2</text>
<text transform="translate(496.1,3165.5) scale(1,1.1)" font-size="69" text-anchor="middle" font-family="'Liberation Serif','Times New Roman',serif" font-weight="bold">-1</text>
<text transform="translate(709.3,3165.5) scale(1,1.1)" font-size="69" text-anchor="middle" font-family="'Liberation Serif','Times New Roman',serif" font-weight="bold">0</text>
<text transform="translate(922.6,3165.5) scale(1,1.1)" font-size="69" text-anchor="middle" font-family="'Liberation Serif','Times New Roman',serif" font-weight="bold">1</text>
<text transform="translate(1135.8,3165.5) scale(1,1.1)" font-size="69" text-anchor="middle" font-family="'Liberation Serif','Times New Roman',serif" font-weight="bold">2</text>
<text transform="translate(1349.1,3165.5) scale(1,1.1)" font-size="69" text-anchor="middle" font-family="'Liberation Serif','Times New Roman',serif" font-weight="bold">3</text>
<text transform="translate(1562.4,3165.5) scale(1,1.1)" font-size="69" text-anchor="middle" font-family="'Liberation Serif','Times New Roman',serif" font-weight="bold">4</text>
<text transform="translate(1775.6,3165.5) scale(1,1.1)" font-size="69" text-anchor="middle" font-family="'Liberation Serif','Times New Roman',serif" font-weight="bold">5</text>
<g clip-path="url(#cB)">
<polyline points="282.8,2954.2 304.1,2904.3 325.5,2850.1 346.8,2788.5 368.1,2717.7 389.4,2637.2 410.8,2558.4 432.1,2486.0 453.4,2415.2 474.7,2349.2 496.1,2289.7 517.4,2236.6 538.7,2189.9 560.0,2151.3 581.4,2119.1 602.7,2094.2 624.0,2077.3 645.3,2063.6 666.7,2054.7 688.0,2051.5 709.3,2053.1 730.6,2058.0 752.0,2066.0 773.3,2077.3 794.6,2093.4 816.0,2109.5 837.3,2136.8 858.6,2165.8 879.9,2199.6 901.3,2236.6 922.6,2275.2 943.9,2315.4 965.2,2357.2 986.6,2403.9 1007.9,2447.3 1029.2,2490.0 1050.5,2527.8 1071.9,2571.2 1093.2,2611.5 1114.5,2645.3 1135.8,2680.6 1157.2,2712.8 1178.5,2743.4 1199.8,2772.8 1221.1,2803.9 1242.5,2830.8 1263.8,2859.1 1285.1,2886.0 1306.4,2909.9 1327.8,2931.2 1349.1,2946.8 1370.4,2963.7 1391.8,2980.7 1413.1,2993.4 1434.4,3006.1 1455.7,3016.1 1477.1,3023.0 1498.4,3030.1 1519.7,3035.0 1541.0,3040.3 1562.4,3044.1 1583.7,3046.7 1605.0,3048.6 1626.3,3050.4 1647.7,3050.4 1669.0,3052.2 1690.3,3053.1 1711.6,3050.7 1733.0,3050.7 1754.3,3053.9 1775.6,3055.5" fill="none" stroke="#008000" stroke-width="14" stroke-linejoin="round" stroke-linecap="round"/>
<g><use href="#fG" x="282.8" y="2954.2"/><use href="#fG" x="304.1" y="2904.3"/><use href="#fG" x="325.5" y="2850.1"/><use href="#fG" x="346.8" y="2788.5"/><use href="#fG" x="368.1" y="2717.7"/><use href="#fG" x="389.4" y="2637.2"/><use href="#fG" x="410.8" y="2558.4"/><use href="#fG" x="432.1" y="2486.0"/><use href="#fG" x="453.4" y="2415.2"/><use href="#fG" x="474.7" y="2349.2"/><use href="#fG" x="496.1" y="2289.7"/><use href="#fG" x="517.4" y="2236.6"/><use href="#fG" x="538.7" y="2189.9"/><use href="#fG" x="560.0" y="2151.3"/><use href="#fG" x="581.4" y="2119.1"/><use href="#fG" x="602.7" y="2094.2"/><use href="#fG" x="624.0" y="2077.3"/><use href="#fG" x="645.3" y="2063.6"/><use href="#fG" x="666.7" y="2054.7"/><use href="#fG" x="688.0" y="2051.5"/><use href="#fG" x="709.3" y="2053.1"/><use href="#fG" x="730.6" y="2058.0"/><use href="#fG" x="752.0" y="2066.0"/><use href="#fG" x="773.3" y="2077.3"/><use href="#fG" x="794.6" y="2093.4"/><use href="#fG" x="816.0" y="2109.5"/><use href="#fG" x="837.3" y="2136.8"/><use href="#fG" x="858.6" y="2165.8"/><use href="#fG" x="879.9" y="2199.6"/><use href="#fG" x="901.3" y="2236.6"/><use href="#fG" x="922.6" y="2275.2"/><use href="#fG" x="943.9" y="2315.4"/><use href="#fG" x="965.2" y="2357.2"/><use href="#fG" x="986.6" y="2403.9"/><use href="#fG" x="1007.9" y="2447.3"/><use href="#fG" x="1029.2" y="2490.0"/><use href="#fG" x="1050.5" y="2527.8"/><use href="#fG" x="1071.9" y="2571.2"/><use href="#fG" x="1093.2" y="2611.5"/><use href="#fG" x="1114.5" y="2645.3"/><use href="#fG" x="1135.8" y="2680.6"/><use href="#fG" x="1157.2" y="2712.8"/><use href="#fG" x="1178.5" y="2743.4"/><use href="#fG" x="1199.8" y="2772.8"/><use href="#fG" x="1221.1" y="2803.9"/><use href="#fG" x="1242.5" y="2830.8"/><use href="#fG" x="1263.8" y="2859.1"/><use href="#fG" x="1285.1" y="2886.0"/><use href="#fG" x="1306.4" y="2909.9"/><use href="#fG" x="1327.8" y="2931.2"/><use href="#fG" x="1349.1" y="2946.8"/><use href="#fG" x="1370.4" y="2963.7"/><use href="#fG" x="1391.8" y="2980.7"/><use href="#fG" x="1413.1" y="2993.4"/><use href="#fG" x="1434.4" y="3006.1"/><use href="#fG" x="1455.7" y="3016.1"/><use href="#fG" x="1477.1" y="3023.0"/><use href="#fG" x="1498.4" y="3030.1"/><use href="#fG" x="1519.7" y="3035.0"/><use href="#fG" x="1541.0" y="3040.3"/><use href="#fG" x="1562.4" y="3044.1"/><use href="#fG" x="1583.7" y="3046.7"/><use href="#fG" x="1605.0" y="3048.6"/><use href="#fG" x="1626.3" y="3050.4"/><use href="#fG" x="1647.7" y="3050.4"/><use href="#fG" x="1669.0" y="3052.2"/><use href="#fG" x="1690.3" y="3053.1"/><use href="#fG" x="1711.6" y="3050.7"/><use href="#fG" x="1733.0" y="3050.7"/><use href="#fG" x="1754.3" y="3053.9"/><use href="#fG" x="1775.6" y="3055.5"/></g>
<g><use href="#oG" x="282.8" y="2954.2"/><use href="#oG" x="304.1" y="2904.3"/><use href="#oG" x="325.5" y="2850.1"/><use href="#oG" x="346.8" y="2788.5"/><use href="#oG" x="368.1" y="2717.7"/><use href="#oG" x="389.4" y="2637.2"/><use href="#oG" x="410.8" y="2558.4"/><use href="#oG" x="432.1" y="2486.0"/><use href="#oG" x="453.4" y="2415.2"/><use href="#oG" x="474.7" y="2349.2"/><use href="#oG" x="496.1" y="2289.7"/><use href="#oG" x="517.4" y="2236.6"/><use href="#oG" x="538.7" y="2189.9"/><use href="#oG" x="560.0" y="2151.3"/><use href="#oG" x="581.4" y="2119.1"/><use href="#oG" x="602.7" y="2094.2"/><use href="#oG" x="624.0" y="2077.3"/><use href="#oG" x="645.3" y="2063.6"/><use href="#oG" x="666.7" y="2054.7"/><use href="#oG" x="688.0" y="2051.5"/><use href="#oG" x="709.3" y="2053.1"/><use href="#oG" x="730.6" y="2058.0"/><use href="#oG" x="752.0" y="2066.0"/><use href="#oG" x="773.3" y="2077.3"/><use href="#oG" x="794.6" y="2093.4"/><use href="#oG" x="816.0" y="2109.5"/><use href="#oG" x="837.3" y="2136.8"/><use href="#oG" x="858.6" y="2165.8"/><use href="#oG" x="879.9" y="2199.6"/><use href="#oG" x="901.3" y="2236.6"/><use href="#oG" x="922.6" y="2275.2"/><use href="#oG" x="943.9" y="2315.4"/><use href="#oG" x="965.2" y="2357.2"/><use href="#oG" x="986.6" y="2403.9"/><use href="#oG" x="1007.9" y="2447.3"/><use href="#oG" x="1029.2" y="2490.0"/><use href="#oG" x="1050.5" y="2527.8"/><use href="#oG" x="1071.9" y="2571.2"/><use href="#oG" x="1093.2" y="2611.5"/><use href="#oG" x="1114.5" y="2645.3"/><use href="#oG" x="1135.8" y="2680.6"/><use href="#oG" x="1157.2" y="2712.8"/><use href="#oG" x="1178.5" y="2743.4"/><use href="#oG" x="1199.8" y="2772.8"/><use href="#oG" x="1221.1" y="2803.9"/><use href="#oG" x="1242.5" y="2830.8"/><use href="#oG" x="1263.8" y="2859.1"/><use href="#oG" x="1285.1" y="2886.0"/><use href="#oG" x="1306.4" y="2909.9"/><use href="#oG" x="1327.8" y="2931.2"/><use href="#oG" x="1349.1" y="2946.8"/><use href="#oG" x="1370.4" y="2963.7"/><use href="#oG" x="1391.8" y="2980.7"/><use href="#oG" x="1413.1" y="2993.4"/><use href="#oG" x="1434.4" y="3006.1"/><use href="#oG" x="1455.7" y="3016.1"/><use href="#oG" x="1477.1" y="3023.0"/><use href="#oG" x="1498.4" y="3030.1"/><use href="#oG" x="1519.7" y="3035.0"/><use href="#oG" x="1541.0" y="3040.3"/><use href="#oG" x="1562.4" y="3044.1"/><use href="#oG" x="1583.7" y="3046.7"/><use href="#oG" x="1605.0" y="3048.6"/><use href="#oG" x="1626.3" y="3050.4"/><use href="#oG" x="1647.7" y="3050.4"/><use href="#oG" x="1669.0" y="3052.2"/><use href="#oG" x="1690.3" y="3053.1"/><use href="#oG" x="1711.6" y="3050.7"/><use href="#oG" x="1733.0" y="3050.7"/><use href="#oG" x="1754.3" y="3053.9"/><use href="#oG" x="1775.6" y="3055.5"/></g>
<polyline points="282.8,3004.1 304.1,3000.5 325.5,2997.6 346.8,2992.0 368.1,2989.3 389.4,2983.5 410.8,2977.8 432.1,2966.6 453.4,2952.6 474.7,2942.9 496.1,2922.0 517.4,2894.6 538.7,2862.5 560.0,2823.8 581.4,2782.0 602.7,2734.4 624.0,2681.5 645.3,2627.7 666.7,2570.3 688.0,2513.6 709.3,2457.0 730.6,2402.3 752.0,2354.0 773.3,2309.0 794.6,2270.4 816.0,2238.2 837.3,2214.0 858.6,2194.7 879.9,2183.5 901.3,2178.6 922.6,2177.0 943.9,2183.5 965.2,2194.7 986.6,2210.8 1007.9,2228.5 1029.2,2252.7 1050.5,2284.8 1071.9,2320.2 1093.2,2357.2 1114.5,2394.2 1135.8,2433.7 1157.2,2472.3 1178.5,2511.7 1199.8,2553.5 1221.1,2595.4 1242.5,2634.0 1263.8,2671.0 1285.1,2709.6 1306.4,2741.8 1327.8,2775.6 1349.1,2803.9 1370.4,2832.2 1391.8,2856.2 1413.1,2876.9 1434.4,2899.5 1455.7,2914.4 1477.1,2931.5 1498.4,2946.1 1519.7,2958.2 1541.0,2968.2 1562.4,2977.7 1583.7,2985.4 1605.0,2992.5 1626.3,3005.2 1647.7,3011.3 1669.0,3016.4 1690.3,3017.9 1711.6,3000.0 1733.0,2996.8 1754.3,3026.7 1775.6,3028.2" fill="none" stroke="#ff0080" stroke-width="14" stroke-linejoin="round" stroke-linecap="round"/>
<g><use href="#fP" x="282.8" y="3004.1"/><use href="#fP" x="304.1" y="3000.5"/><use href="#fP" x="325.5" y="2997.6"/><use href="#fP" x="346.8" y="2992.0"/><use href="#fP" x="368.1" y="2989.3"/><use href="#fP" x="389.4" y="2983.5"/><use href="#fP" x="410.8" y="2977.8"/><use href="#fP" x="432.1" y="2966.6"/><use href="#fP" x="453.4" y="2952.6"/><use href="#fP" x="474.7" y="2942.9"/><use href="#fP" x="496.1" y="2922.0"/><use href="#fP" x="517.4" y="2894.6"/><use href="#fP" x="538.7" y="2862.5"/><use href="#fP" x="560.0" y="2823.8"/><use href="#fP" x="581.4" y="2782.0"/><use href="#fP" x="602.7" y="2734.4"/><use href="#fP" x="624.0" y="2681.5"/><use href="#fP" x="645.3" y="2627.7"/><use href="#fP" x="666.7" y="2570.3"/><use href="#fP" x="688.0" y="2513.6"/><use href="#fP" x="709.3" y="2457.0"/><use href="#fP" x="730.6" y="2402.3"/><use href="#fP" x="752.0" y="2354.0"/><use href="#fP" x="773.3" y="2309.0"/><use href="#fP" x="794.6" y="2270.4"/><use href="#fP" x="816.0" y="2238.2"/><use href="#fP" x="837.3" y="2214.0"/><use href="#fP" x="858.6" y="2194.7"/><use href="#fP" x="879.9" y="2183.5"/><use href="#fP" x="901.3" y="2178.6"/><use href="#fP" x="922.6" y="2177.0"/><use href="#fP" x="943.9" y="2183.5"/><use href="#fP" x="965.2" y="2194.7"/><use href="#fP" x="986.6" y="2210.8"/><use href="#fP" x="1007.9" y="2228.5"/><use href="#fP" x="1029.2" y="2252.7"/><use href="#fP" x="1050.5" y="2284.8"/><use href="#fP" x="1071.9" y="2320.2"/><use href="#fP" x="1093.2" y="2357.2"/><use href="#fP" x="1114.5" y="2394.2"/><use href="#fP" x="1135.8" y="2433.7"/><use href="#fP" x="1157.2" y="2472.3"/><use href="#fP" x="1178.5" y="2511.7"/><use href="#fP" x="1199.8" y="2553.5"/><use href="#fP" x="1221.1" y="2595.4"/><use href="#fP" x="1242.5" y="2634.0"/><use href="#fP" x="1263.8" y="2671.0"/><use href="#fP" x="1285.1" y="2709.6"/><use href="#fP" x="1306.4" y="2741.8"/><use href="#fP" x="1327.8" y="2775.6"/><use href="#fP" x="1349.1" y="2803.9"/><use href="#fP" x="1370.4" y="2832.2"/><use href="#fP" x="1391.8" y="2856.2"/><use href="#fP" x="1413.1" y="2876.9"/><use href="#fP" x="1434.4" y="2899.5"/><use href="#fP" x="1455.7" y="2914.4"/><use href="#fP" x="1477.1" y="2931.5"/><use href="#fP" x="1498.4" y="2946.1"/><use href="#fP" x="1519.7" y="2958.2"/><use href="#fP" x="1541.0" y="2968.2"/><use href="#fP" x="1562.4" y="2977.7"/><use href="#fP" x="1583.7" y="2985.4"/><use href="#fP" x="1605.0" y="2992.5"/><use href="#fP" x="1626.3" y="3005.2"/><use href="#fP" x="1647.7" y="3011.3"/><use href="#fP" x="1669.0" y="3016.4"/><use href="#fP" x="1690.3" y="3017.9"/><use href="#fP" x="1711.6" y="3000.0"/><use href="#fP" x="1733.0" y="2996.8"/><use href="#fP" x="1754.3" y="3026.7"/><use href="#fP" x="1775.6" y="3028.2"/></g>
<g><use href="#oP" x="282.8" y="3004.1"/><use href="#oP" x="304.1" y="3000.5"/><use href="#oP" x="325.5" y="2997.6"/><use href="#oP" x="346.8" y="2992.0"/><use href="#oP" x="368.1" y="2989.3"/><use href="#oP" x="389.4" y="2983.5"/><use href="#oP" x="410.8" y="2977.8"/><use href="#oP" x="432.1" y="2966.6"/><use href="#oP" x="453.4" y="2952.6"/><use href="#oP" x="474.7" y="2942.9"/><use href="#oP" x="496.1" y="2922.0"/><use href="#oP" x="517.4" y="2894.6"/><use href="#oP" x="538.7" y="2862.5"/><use href="#oP" x="560.0" y="2823.8"/><use href="#oP" x="581.4" y="2782.0"/><use href="#oP" x="602.7" y="2734.4"/><use href="#oP" x="624.0" y="2681.5"/><use href="#oP" x="645.3" y="2627.7"/><use href="#oP" x="666.7" y="2570.3"/><use href="#oP" x="688.0" y="2513.6"/><use href="#oP" x="709.3" y="2457.0"/><use href="#oP" x="730.6" y="2402.3"/><use href="#oP" x="752.0" y="2354.0"/><use href="#oP" x="773.3" y="2309.0"/><use href="#oP" x="794.6" y="2270.4"/><use href="#oP" x="816.0" y="2238.2"/><use href="#oP" x="837.3" y="2214.0"/><use href="#oP" x="858.6" y="2194.7"/><use href="#oP" x="879.9" y="2183.5"/><use href="#oP" x="901.3" y="2178.6"/><use href="#oP" x="922.6" y="2177.0"/><use href="#oP" x="943.9" y="2183.5"/><use href="#oP" x="965.2" y="2194.7"/><use href="#oP" x="986.6" y="2210.8"/><use href="#oP" x="1007.9" y="2228.5"/><use href="#oP" x="1029.2" y="2252.7"/><use href="#oP" x="1050.5" y="2284.8"/><use href="#oP" x="1071.9" y="2320.2"/><use href="#oP" x="1093.2" y="2357.2"/><use href="#oP" x="1114.5" y="2394.2"/><use href="#oP" x="1135.8" y="2433.7"/><use href="#oP" x="1157.2" y="2472.3"/><use href="#oP" x="1178.5" y="2511.7"/><use href="#oP" x="1199.8" y="2553.5"/><use href="#oP" x="1221.1" y="2595.4"/><use href="#oP" x="1242.5" y="2634.0"/><use href="#oP" x="1263.8" y="2671.0"/><use href="#oP" x="1285.1" y="2709.6"/><use href="#oP" x="1306.4" y="2741.8"/><use href="#oP" x="1327.8" y="2775.6"/><use href="#oP" x="1349.1" y="2803.9"/><use href="#oP" x="1370.4" y="2832.2"/><use href="#oP" x="1391.8" y="2856.2"/><use href="#oP" x="1413.1" y="2876.9"/><use href="#oP" x="1434.4" y="2899.5"/><use href="#oP" x="1455.7" y="2914.4"/><use href="#oP" x="1477.1" y="2931.5"/><use href="#oP" x="1498.4" y="2946.1"/><use href="#oP" x="1519.7" y="2958.2"/><use href="#oP" x="1541.0" y="2968.2"/><use href="#oP" x="1562.4" y="2977.7"/><use href="#oP" x="1583.7" y="2985.4"/><use href="#oP" x="1605.0" y="2992.5"/><use href="#oP" x="1626.3" y="3005.2"/><use href="#oP" x="1647.7" y="3011.3"/><use href="#oP" x="1669.0" y="3016.4"/><use href="#oP" x="1690.3" y="3017.9"/><use href="#oP" x="1711.6" y="3000.0"/><use href="#oP" x="1733.0" y="2996.8"/><use href="#oP" x="1754.3" y="3026.7"/><use href="#oP" x="1775.6" y="3028.2"/></g>
<polyline points="282.8,3044.3 304.1,3049.4 325.5,3057.2 346.8,3058.6 368.1,3057.5 389.4,3055.7 410.8,3052.2 432.1,3046.5 453.4,3036.6 474.7,3023.8 496.1,3011.9 517.4,2999.9 538.7,2984.4 560.0,2966.1 581.4,2944.5 602.7,2919.1 624.0,2884.3 645.3,2849.8 666.7,2809.0 688.0,2764.3 709.3,2722.5 730.6,2667.8 752.0,2616.3 773.3,2563.2 794.6,2516.5 816.0,2471.5 837.3,2432.1 858.6,2397.5 879.9,2366.9 901.3,2341.1 922.6,2323.5 943.9,2309.0 965.2,2300.9 986.6,2294.5 1007.9,2292.1 1029.2,2291.3 1050.5,2293.5 1071.9,2297.7 1093.2,2305.8 1114.5,2317.0 1135.8,2328.3 1157.2,2344.4 1178.5,2362.1 1199.8,2381.4 1221.1,2404.4 1242.5,2428.5 1263.8,2452.5 1285.1,2479.5 1306.4,2503.7 1327.8,2529.4 1349.1,2555.1 1370.4,2580.9 1391.8,2606.6 1413.1,2627.6 1434.4,2648.5 1455.7,2667.8 1477.1,2687.9 1498.4,2708.0 1519.7,2727.5 1541.0,2747.3 1562.4,2768.5 1583.7,2786.8 1605.0,2801.3 1626.3,2815.2 1647.7,2826.4 1669.0,2835.1 1690.3,2842.0 1711.6,2844.0 1733.0,2844.0 1754.3,2840.1 1775.6,2837.8" fill="none" stroke="#940000" stroke-width="14" stroke-linejoin="round" stroke-linecap="round"/>
<g><use href="#aW" x="282.8" y="3044.3"/><use href="#aW" x="304.1" y="3049.4"/><use href="#aW" x="325.5" y="3057.2"/><use href="#aW" x="346.8" y="3058.6"/><use href="#aW" x="368.1" y="3057.5"/><use href="#aW" x="389.4" y="3055.7"/><use href="#aW" x="410.8" y="3052.2"/><use href="#aW" x="432.1" y="3046.5"/><use href="#aW" x="453.4" y="3036.6"/><use href="#aW" x="474.7" y="3023.8"/><use href="#aW" x="496.1" y="3011.9"/><use href="#aW" x="517.4" y="2999.9"/><use href="#aW" x="538.7" y="2984.4"/><use href="#aW" x="560.0" y="2966.1"/><use href="#aW" x="581.4" y="2944.5"/><use href="#aW" x="602.7" y="2919.1"/><use href="#aW" x="624.0" y="2884.3"/><use href="#aW" x="645.3" y="2849.8"/><use href="#aW" x="666.7" y="2809.0"/><use href="#aW" x="688.0" y="2764.3"/><use href="#aW" x="709.3" y="2722.5"/><use href="#aW" x="730.6" y="2667.8"/><use href="#aW" x="752.0" y="2616.3"/><use href="#aW" x="773.3" y="2563.2"/><use href="#aW" x="794.6" y="2516.5"/><use href="#aW" x="816.0" y="2471.5"/><use href="#aW" x="837.3" y="2432.1"/><use href="#aW" x="858.6" y="2397.5"/><use href="#aW" x="879.9" y="2366.9"/><use href="#aW" x="901.3" y="2341.1"/><use href="#aW" x="922.6" y="2323.5"/><use href="#aW" x="943.9" y="2309.0"/><use href="#aW" x="965.2" y="2300.9"/><use href="#aW" x="986.6" y="2294.5"/><use href="#aW" x="1007.9" y="2292.1"/><use href="#aW" x="1029.2" y="2291.3"/><use href="#aW" x="1050.5" y="2293.5"/><use href="#aW" x="1071.9" y="2297.7"/><use href="#aW" x="1093.2" y="2305.8"/><use href="#aW" x="1114.5" y="2317.0"/><use href="#aW" x="1135.8" y="2328.3"/><use href="#aW" x="1157.2" y="2344.4"/><use href="#aW" x="1178.5" y="2362.1"/><use href="#aW" x="1199.8" y="2381.4"/><use href="#aW" x="1221.1" y="2404.4"/><use href="#aW" x="1242.5" y="2428.5"/><use href="#aW" x="1263.8" y="2452.5"/><use href="#aW" x="1285.1" y="2479.5"/><use href="#aW" x="1306.4" y="2503.7"/><use href="#aW" x="1327.8" y="2529.4"/><use href="#aW" x="1349.1" y="2555.1"/><use href="#aW" x="1370.4" y="2580.9"/><use href="#aW" x="1391.8" y="2606.6"/><use href="#aW" x="1413.1" y="2627.6"/><use href="#aW" x="1434.4" y="2648.5"/><use href="#aW" x="1455.7" y="2667.8"/><use href="#aW" x="1477.1" y="2687.9"/><use href="#aW" x="1498.4" y="2708.0"/><use href="#aW" x="1519.7" y="2727.5"/><use href="#aW" x="1541.0" y="2747.3"/><use href="#aW" x="1562.4" y="2768.5"/><use href="#aW" x="1583.7" y="2786.8"/><use href="#aW" x="1605.0" y="2801.3"/><use href="#aW" x="1626.3" y="2815.2"/><use href="#aW" x="1647.7" y="2826.4"/><use href="#aW" x="1669.0" y="2835.1"/><use href="#aW" x="1690.3" y="2842.0"/><use href="#aW" x="1711.6" y="2844.0"/><use href="#aW" x="1733.0" y="2844.0"/><use href="#aW" x="1754.3" y="2840.1"/><use href="#aW" x="1775.6" y="2837.8"/></g>
<polyline points="282.8,2925.2 304.1,2924.4 325.5,2923.1 346.8,2922.6 368.1,2922.6 389.4,2920.9 410.8,2918.8 432.1,2915.9 453.4,2914.0 474.7,2911.4 496.1,2909.4 517.4,2906.2 538.7,2903.7 560.0,2901.6 581.4,2899.0 602.7,2896.7 624.0,2893.8 645.3,2890.8 666.7,2887.9 688.0,2884.2 709.3,2881.6 730.6,2876.6 752.0,2871.8 773.3,2867.0 794.6,2860.4 816.0,2852.8 837.3,2844.9 858.6,2835.0 879.9,2825.1 901.3,2812.4 922.6,2801.0 943.9,2788.3 965.2,2772.7 986.6,2758.5 1007.9,2746.6 1029.2,2732.9 1050.5,2720.9 1071.9,2708.0 1093.2,2697.5 1114.5,2689.2 1135.8,2682.1 1157.2,2675.0 1178.5,2670.8 1199.8,2666.5 1221.1,2665.0 1242.5,2662.9 1263.8,2663.8 1285.1,2665.0 1306.4,2669.4 1322.9,2675.4 1339.4,2684.9 1355.9,2696.9 1372.3,2709.3 1388.8,2720.3 1405.3,2734.9 1421.7,2747.9 1438.2,2759.0 1454.7,2771.6 1471.1,2784.0 1487.6,2795.8 1504.1,2811.5 1520.5,2836.2 1537.0,2856.3 1553.5,2864.2 1569.9,2870.9 1586.4,2880.1 1602.9,2890.6" fill="none" stroke="#000" stroke-width="14" stroke-linejoin="round" stroke-linecap="round"/>
<g><use href="#tK" x="282.8" y="2925.2"/><use href="#tK" x="304.1" y="2924.4"/><use href="#tK" x="325.5" y="2923.1"/><use href="#tK" x="346.8" y="2922.6"/><use href="#tK" x="368.1" y="2922.6"/><use href="#tK" x="389.4" y="2920.9"/><use href="#tK" x="410.8" y="2918.8"/><use href="#tK" x="432.1" y="2915.9"/><use href="#tK" x="453.4" y="2914.0"/><use href="#tK" x="474.7" y="2911.4"/><use href="#tK" x="496.1" y="2909.4"/><use href="#tK" x="517.4" y="2906.2"/><use href="#tK" x="538.7" y="2903.7"/><use href="#tK" x="560.0" y="2901.6"/><use href="#tK" x="581.4" y="2899.0"/><use href="#tK" x="602.7" y="2896.7"/><use href="#tK" x="624.0" y="2893.8"/><use href="#tK" x="645.3" y="2890.8"/><use href="#tK" x="666.7" y="2887.9"/><use href="#tK" x="688.0" y="2884.2"/><use href="#tK" x="709.3" y="2881.6"/><use href="#tK" x="730.6" y="2876.6"/><use href="#tK" x="752.0" y="2871.8"/><use href="#tK" x="773.3" y="2867.0"/><use href="#tK" x="794.6" y="2860.4"/><use href="#tK" x="816.0" y="2852.8"/><use href="#tK" x="837.3" y="2844.9"/><use href="#tK" x="858.6" y="2835.0"/><use href="#tK" x="879.9" y="2825.1"/><use href="#tK" x="901.3" y="2812.4"/><use href="#tK" x="922.6" y="2801.0"/><use href="#tK" x="943.9" y="2788.3"/><use href="#tK" x="965.2" y="2772.7"/><use href="#tK" x="986.6" y="2758.5"/><use href="#tK" x="1007.9" y="2746.6"/><use href="#tK" x="1029.2" y="2732.9"/><use href="#tK" x="1050.5" y="2720.9"/><use href="#tK" x="1071.9" y="2708.0"/><use href="#tK" x="1093.2" y="2697.5"/><use href="#tK" x="1114.5" y="2689.2"/><use href="#tK" x="1135.8" y="2682.1"/><use href="#tK" x="1157.2" y="2675.0"/><use href="#tK" x="1178.5" y="2670.8"/><use href="#tK" x="1199.8" y="2666.5"/><use href="#tK" x="1221.1" y="2665.0"/><use href="#tK" x="1242.5" y="2662.9"/><use href="#tK" x="1263.8" y="2663.8"/><use href="#tK" x="1285.1" y="2665.0"/><use href="#tK" x="1306.4" y="2669.4"/><use href="#tK" x="1322.9" y="2675.4"/><use href="#tK" x="1339.4" y="2684.9"/><use href="#tK" x="1355.9" y="2696.9"/><use href="#tK" x="1372.3" y="2709.3"/><use href="#tK" x="1388.8" y="2720.3"/><use href="#tK" x="1405.3" y="2734.9"/><use href="#tK" x="1421.7" y="2747.9"/><use href="#tK" x="1438.2" y="2759.0"/><use href="#tK" x="1454.7" y="2771.6"/><use href="#tK" x="1471.1" y="2784.0"/><use href="#tK" x="1487.6" y="2795.8"/><use href="#tK" x="1504.1" y="2811.5"/><use href="#tK" x="1520.5" y="2836.2"/><use href="#tK" x="1537.0" y="2856.3"/><use href="#tK" x="1553.5" y="2864.2"/><use href="#tK" x="1569.9" y="2870.9"/><use href="#tK" x="1586.4" y="2880.1"/><use href="#tK" x="1602.9" y="2890.6"/></g>
</g>
<line x1="1110.8" y1="1847.8" x2="1247.3" y2="1847.8" stroke="#008000" stroke-width="14" stroke-linecap="round"/><use href="#sG" x="1179" y="1847.8"/>
<text transform="translate(1265.5,1871.6) scale(1,1.1)" font-size="62.4" text-anchor="start" font-family="'Liberation Serif','Times New Roman',serif" font-weight="bold">EP/1.8 ZnO-NiO</text>
<line x1="1110.8" y1="1931.5" x2="1247.3" y2="1931.5" stroke="#ff0080" stroke-width="14" stroke-linecap="round"/><use href="#sP" x="1179" y="1931.5"/>
<text transform="translate(1265.5,1955.3) scale(1,1.1)" font-size="62.4" text-anchor="start" font-family="'Liberation Serif','Times New Roman',serif" font-weight="bold">EP/1 ZnO-NiO</text>
<line x1="1110.8" y1="2016.6" x2="1247.3" y2="2016.6" stroke="#940000" stroke-width="14" stroke-linecap="round"/><use href="#aW" x="1179" y="2016.6"/>
<text transform="translate(1265.5,2040.4) scale(1,1.1)" font-size="62.4" text-anchor="start" font-family="'Liberation Serif','Times New Roman',serif" font-weight="bold">Epoxy</text>
<line x1="1110.8" y1="2101.5" x2="1247.3" y2="2101.5" stroke="#000" stroke-width="14" stroke-linecap="round"/><use href="#tK" x="1179" y="2101.5"/>
<text transform="translate(1265.5,2125.3) scale(1,1.1)" font-size="62.4" text-anchor="start" font-family="'Liberation Serif','Times New Roman',serif" font-weight="bold">Steel</text>
<text transform="translate(297.0,1870.0) scale(1,1.1)" font-size="76" text-anchor="start" font-family="'Liberation Serif','Times New Roman',serif" font-weight="bold">b</text>
<text transform="translate(1030.0,3282.0) scale(1,1.1)" font-size="63.2" text-anchor="middle" font-family="'Liberation Serif','Times New Roman',serif" font-weight="bold">log Frequency (Hz)</text>
<text transform="translate(88.5,2390) rotate(-90)" font-size="66" text-anchor="middle" font-family="'Liberation Sans',Arial,sans-serif" font-weight="bold">θ (deg)</text>
</svg>
</body></html>
